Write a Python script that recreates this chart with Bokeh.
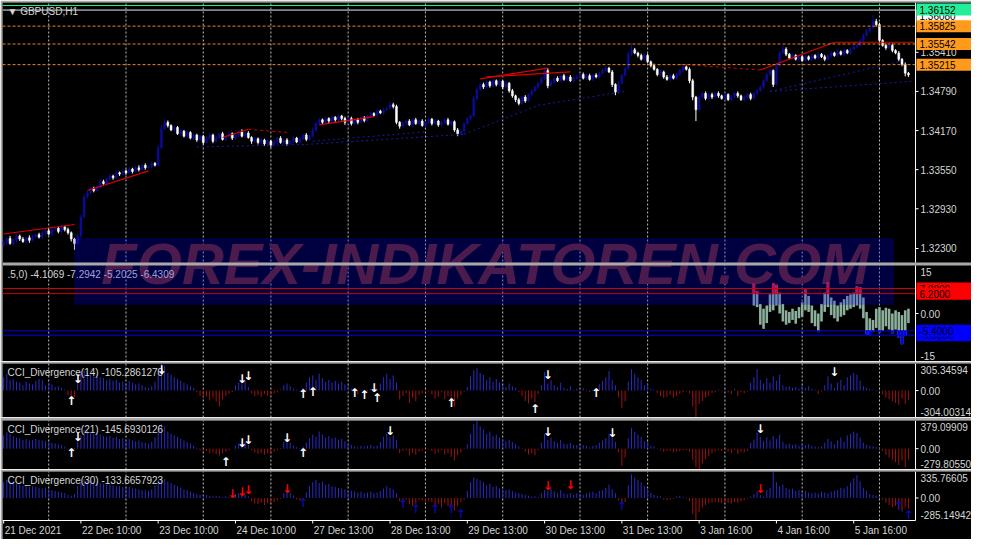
from bokeh.plotting import figure
from bokeh.layouts import column
from bokeh.models import Range1d
from bokeh.core.properties import value
from bokeh.embed import file_html
from bokeh.resources import INLINE

# ---------------------------------------------------------------- data
SYMBOL_TITLE = "\u25BC GBPUSD,H1"
PRICE_BASE = 1.3            # candle values below are pips above this base
FIRST_OPEN = 236
CLOSE = [
    240, 246, 238, 244, 250, 245, 241, 247, 243, 249,
    252, 248, 255, 258, 253, 260, 262, 257, 264, 260,
    255, 245, 238, 250, 280, 312, 318, 325, 322, 328,
    336, 333, 340, 345, 342, 350, 348, 353, 350, 356,
    352, 358, 355, 362, 358, 360, 365, 362, 390, 420,
    430, 425, 418, 422, 412, 416, 408, 414, 405, 410,
    402, 408, 398, 404, 410, 400, 406, 412, 403, 408,
    412, 405, 410, 415, 408, 413, 406, 400, 404, 398,
    402, 396, 400, 394, 399, 405, 398, 402, 396, 400,
    405, 399, 404, 410, 403, 408, 418, 428, 434, 430,
    436, 432, 438, 434, 440, 436, 430, 436, 428, 434,
    430, 437, 433, 440, 444, 441, 448, 445, 450, 452,
    458, 455, 430, 424, 428, 432, 426, 434, 428, 432,
    425, 430, 435, 428, 432, 426, 430, 434, 427, 431,
    418, 412, 416, 428, 436, 440, 468, 482, 490, 486,
    494, 488, 496, 490, 495, 486, 492, 480, 472, 466,
    460, 470, 464, 474, 480, 486, 492, 500, 512, 488,
    494, 500, 496, 504, 498, 502, 496, 500, 502, 506,
    500, 504, 498, 505, 502, 508, 512, 516, 510, 490,
    478, 492, 505, 515, 538, 545, 540, 536, 530, 536,
    526, 520, 514, 506, 510, 502, 498, 504, 500, 506,
    512, 518, 514, 496, 470, 450, 470, 476, 468, 474,
    470, 476, 472, 468, 474, 466, 470, 476, 472, 466,
    470, 474, 468, 476, 480, 486, 496, 506, 512, 490,
    520, 540, 546, 538, 532, 536, 530, 534, 528, 534,
    530, 536, 532, 538, 534, 530, 536, 540, 536, 542,
    538, 544, 540, 546, 550, 552, 560, 568, 575, 580,
    590, 585, 560, 552, 548, 552, 544, 540, 530, 522,
    508, 505,
]
WICK_UP = [
    3, 2, 4, 2, 3, 2, 3, 2, 4, 3, 2, 3, 2, 3, 4, 2, 3, 2, 3, 2,
    3, 2, 2, 4, 3, 4, 3, 2, 3, 2, 4, 3, 2, 3, 2, 3, 2, 3, 2, 3,
    2, 3, 4, 2, 3, 2, 3, 2, 4, 6, 5, 3, 2, 3, 2, 3, 2, 3, 2, 3,
    2, 3, 2, 3, 4, 2, 3, 2, 3, 2, 3, 2, 3, 2, 4, 2, 3, 2, 3, 2,
    3, 2, 3, 2, 3, 2, 3, 2, 3, 2, 3, 2, 3, 2, 3, 2, 4, 3, 3, 2,
    3, 2, 3, 2, 3, 2, 3, 2, 3, 2, 3, 2, 3, 2, 3, 2, 3, 2, 3, 3,
    5, 3, 3, 2, 3, 2, 3, 2, 3, 2, 3, 2, 3, 2, 3, 2, 3, 2, 3, 2,
    2, 3, 2, 3, 2, 3, 4, 3, 4, 3, 3, 2, 3, 2, 3, 2, 3, 2, 3, 2,
    3, 2, 3, 2, 3, 2, 3, 2, 6, 4, 3, 2, 3, 2, 3, 2, 3, 2, 3, 2,
    3, 2, 3, 2, 3, 2, 3, 3, 2, 3, 2, 3, 2, 3, 4, 11, 3, 2, 3, 2,
    3, 2, 3, 2, 3, 2, 3, 2, 3, 2, 3, 3, 2, 3, 3, 2, 3, 2, 3, 2,
    3, 2, 3, 2, 3, 2, 3, 2, 3, 2, 3, 2, 3, 2, 3, 2, 3, 3, 3, 2,
    3, 3, 7, 3, 2, 3, 2, 3, 2, 3, 2, 3, 2, 3, 2, 3, 2, 3, 2, 3,
    2, 3, 2, 3, 3, 2, 3, 3, 3, 3, 10, 4, 3, 2, 3, 2, 3, 2, 3, 2,
    3, 2,
]
WICK_DN = [
    3, 4, 2, 3, 5, 3, 2, 3, 4, 2, 3, 2, 3, 4, 2, 3, 2, 3, 4, 3,
    3, 4, 10, 3, 3, 2, 3, 2, 3, 2, 3, 2, 3, 2, 3, 2, 3, 2, 3, 2,
    3, 2, 3, 2, 3, 2, 3, 2, 2, 3, 2, 3, 2, 3, 2, 3, 2, 3, 2, 3,
    3, 2, 3, 2, 2, 3, 2, 3, 2, 3, 2, 3, 2, 3, 2, 3, 2, 4, 2, 3,
    2, 3, 2, 4, 2, 3, 2, 3, 3, 2, 3, 2, 3, 2, 3, 2, 2, 3, 2, 3,
    2, 3, 2, 3, 2, 3, 4, 2, 3, 2, 3, 2, 3, 2, 3, 2, 3, 2, 3, 2,
    2, 3, 3, 4, 2, 3, 2, 3, 2, 3, 2, 3, 2, 3, 2, 3, 2, 3, 2, 3,
    3, 4, 2, 3, 2, 3, 2, 3, 2, 3, 2, 3, 2, 3, 2, 3, 2, 3, 3, 4,
    3, 2, 3, 2, 3, 2, 3, 2, 3, 4, 2, 3, 2, 3, 2, 3, 2, 3, 2, 3,
    2, 3, 2, 3, 2, 3, 2, 3, 2, 4, 5, 3, 2, 3, 2, 3, 2, 3, 2, 3,
    2, 3, 2, 3, 2, 3, 2, 3, 2, 3, 2, 3, 2, 4, 5, 18, 3, 2, 3, 2,
    3, 2, 3, 2, 3, 2, 3, 2, 3, 2, 3, 2, 3, 2, 3, 2, 3, 2, 3, 4,
    2, 3, 2, 3, 2, 3, 2, 3, 2, 3, 2, 3, 2, 3, 2, 3, 2, 3, 2, 3,
    2, 3, 2, 3, 2, 3, 2, 3, 2, 3, 2, 3, 4, 2, 3, 2, 3, 2, 3, 3,
    5, 3,
]

DATE_TICKS = [0, 24, 48, 72, 96, 120, 144, 168, 192, 216, 240, 264]
DATE_LABELS = ["21 Dec 2021", "22 Dec 10:00", "23 Dec 10:00", "24 Dec 10:00",
               "27 Dec 13:00", "28 Dec 13:00", "29 Dec 13:00", "30 Dec 13:00",
               "31 Dec 13:00", "3 Jan 16:00", "4 Jan 16:00", "5 Jan 16:00"]
DAY_STARTS = [14, 38, 62, 83, 107, 131, 155, 179, 200, 224, 248, 272]

PRICE_RANGE = (1.32078, 1.36200)
PRICE_TICKS = [1.32300, 1.32930, 1.33550, 1.34170, 1.34790, 1.35410]
LEVELS = [1.36152, 1.36080, 1.35825, 1.35542, 1.35215]

# divergence trend lines (bar index pairs, price pairs)
RED_SOLID_I = [[0, 22], [26, 45], [68, 76], [98, 115], [148, 169], [150, 176], [235, 258], [258, 283]]
RED_SOLID_P = [[1.3253, 1.3268], [1.3322, 1.3353], [1.3406, 1.3419], [1.3426, 1.3439],
               [1.3499, 1.3516], [1.3502, 1.3510], [1.3513, 1.3557], [1.3557, 1.3557]]
RED_DASH_I = [[76, 88], [210, 235]]
RED_DASH_P = [[1.3419, 1.3414], [1.3522, 1.3513]]
NAVY_DOT_I = [[60, 94], [94, 143], [96, 131], [143, 166], [166, 193], [238, 282], [238, 278]]
NAVY_DOT_P = [[1.3391, 1.3395], [1.3395, 1.3411], [1.3400, 1.3415], [1.3411, 1.3457],
              [1.3457, 1.3479], [1.3479, 1.3495], [1.3479, 1.3526]]

# oscillator sub-window
OSC_TITLE = ".5,0) -4.1069 -7.2942 -5.2025 -6.4309"
OSC_RANGE = (-15, 15)
OSC_START = 233
OSC_HI = [9.3, 7.0, 3.0, 1.5, 2.5, 6.0, 9.5, 9.0, 6.5, 3.0,
          1.0, 0.5, 1.5, 0.8, 2.0, 3.5, 7.5, 5.5, 2.5, 1.0,
          0.0, 3.0, 6.5, 9.7, 5.0, 4.0, 2.5, 3.5, 4.5, 5.5,
          6.0, 6.5, 8.5, 8.2, 5.0, 0.5, -1.5, -2.0, 1.5, 2.0,
          1.0, 1.8, 1.5, 0.0, 1.0, 0.5, -0.5, 1.0, 1.5]
OSC_LO = [2.5, 2.0, -3.5, -4.8, -3.0, 0.5, 1.0, 2.5, 0.0, -2.5,
          -3.5, -3.0, -2.0, -3.2, -1.5, -1.0, 1.0, 0.5, -3.0, -4.0,
          -5.8, -2.5, 0.5, 2.0, -0.5, -1.5, -2.5, -1.0, -0.5, 1.0,
          1.5, 2.0, 2.5, 1.5, -1.5, -6.5, -6.8, -5.8, -4.5, -6.0,
          -5.5, -4.0, -5.0, -6.2, -5.0, -7.5, -9.6, -7.0, -3.0]
OSC_UPPER = [7.8, 6.2]
OSC_LOWER = [-6.8, -5.4]

# CCI divergence sub-windows
CCI14 = (
    [150, 190, 120, 130, 100] + [90, 60, 100, 80, 70] + [110, 130, 120, 60, 90] + [70, 40, 50, 30, 10]
    + [-50, -80, -70] + [120, 200, 230, 210, 180, 160, 190, 150, 140, 120]
    + [130, 110, 120, 90, 100, 80, 110, 90, 70, 80, 60, 40, 30, 50, 100] + [250, 305, 280]
    + [200, 180, 150, 130, 110, 90, 70, 50, 30]
    + [-20, -60, -90, -70, -110, -80, -120, -180, -100, -60, -40, -20] + [60, 90, 120, 110, 40]
    + [-30, -60, -50, -70, -40, -60, -50, -30, -20, 10] + [60, 80, 50, 20, 10, -10, 30, 90, 150]
    + [170, 120, 190, 140, 100, 120, 90, 110, 80, 100, 70, 50] + [20, -20, -40, 10, -30, -10, 20, -10, 10]
    + [80, 150, 190, 130, 170, 90]
    + [-100, -60, -30, -140, -80, -120, -50, -30, -20, -10, -40, -90, -70, -20, -100, -60, -130, -180, -90, -50, -10]
    + [40, 160, 230, 250, 200, 180, 120, 150, 100, 130, 90] + [60, 40, 80, 50, 30]
    + [-20, -60, -120, -145, -90, -130, -40] + [60, 210] + [80, 120, 60, 40, 90, 30, 20, 50, 10]
    + [20, -10, 30, 10, -20, 10, 20] + [70, 110, 150, 220, 120, 60] + [-80, -200, -120]
    + [100, 240, 190, 150, 120, 60, 70] + [20, 10] + [-30, -60, -80, -70, -50, -80, -60, -40, -20, -10, -30]
    + [-180, -304, -150, -120, -80, -60] + [-30, -20, 10, -10, 20, -20, -40, 20, -60, -20, -30, -10]
    + [90, 150, 240, 120, 80, 140, 90, 160, 110, 180, 60, 40] + [50, 30, 40, 20, 60, 30, 50, 20, 10]
    + [-40, -10] + [60, 160, 80, 30, 90, 120, 60, 150, 170, 200, 180, 110, 50, 30] + [20, 10, -10, 5]
    + [-40, -80, -100, -120, -140, -160, -90, -150, -105]
)
CCI21 = (
    [180, 220, 200, 170, 150] + [140, 120, 130, 110, 120] + [130, 120, 110, 100, 90] + [80, 70, 60, 50, 30]
    + [-10, -30, 10] + [100, 180, 250, 240, 220, 200, 230, 190, 170, 160]
    + [170, 150, 160, 130, 140, 120, 130, 110, 100, 110, 90, 80, 70, 90, 150] + [280, 330, 300]
    + [230, 200, 180, 160, 130, 110, 90, 70, 40]
    + [10, -20, -40, -30, -60, -50, -70, -90, -60, -40, -20, 0] + [40, 70, 100, 90, 50]
    + [-20, -50, -70, -60, -80, -60, -70, -40, -20, 10] + [90, 130, 80, 40, 20, 10, 30, 80, 140]
    + [190, 160, 230, 190, 150, 170, 140, 150, 120, 130, 100, 80] + [50, 30, 20, 40, 30, 40, 50, 30, 40]
    + [90, 160, 200, 150, 180, 120]
    + [-60, -30, -20, -90, -60, -80, -40, -30, -20, -10, -30, -70, -50, -20, -80, -60, -110, -160, -90, -50, -10]
    + [60, 200, 330, 379, 300, 260, 200, 230, 170, 190, 150] + [120, 100, 120, 90, 60]
    + [30, 10, -40, -80, -60, -90, -20] + [80, 200] + [120, 150, 100, 80, 120, 70, 60, 80, 50]
    + [50, 30, 50, 40, 20, 40, 50] + [80, 110, 140, 200, 150, 90] + [-50, -230, -120]
    + [140, 280, 230, 190, 160, 100, 90] + [40, 30] + [10, -20, -40, -30, -30, -50, -40, -30, -20, -20, -40]
    + [-150, -250, -280, -200, -140, -100] + [-60, -40, -20, -30, -10, -40, -60, -20, -70, -40, -50, -30]
    + [80, 120, 220, 160, 100, 150, 110, 170, 130, 190, 90, 60] + [70, 50, 60, 40, 70, 50, 60, 40, 30]
    + [20, 30] + [80, 130, 100, 60, 110, 150, 90, 180, 200, 230, 210, 150, 80, 50] + [40, 30, 20, 10]
    + [-30, -80, -120, -150, -180, -220, -160, -250, -145]
)
CCI30 = (
    [200, 230, 210, 190, 180] + [170, 150, 160, 140, 150] + [140, 130, 120, 130, 110] + [100, 90, 80, 70, 60]
    + [40, 30, 50] + [150, 200, 240, 230, 220, 200, 210, 190, 180, 170]
    + [170, 160, 150, 150, 140, 130, 140, 120, 120, 110, 100, 100, 90, 110, 160] + [230, 260, 240]
    + [210, 190, 170, 150, 130, 110, 100, 80, 60]
    + [50, 40, 30, 40, 30, 20, 30, 20, 10, 20, 10, 30] + [50, 60, 70, 40, 20]
    + [-40, -70, -80, -60, -90, -70, -60, -50, -30, -10] + [60, 100, 70, 30, -20, -30, -10, 70, 150]
    + [200, 230, 190, 210, 170, 180, 150, 140, 130, 120, 110, 100] + [90, 80, 70, 80, 60, 70, 80, 60, 70]
    + [90, 120, 150, 130, 110, 60]
    + [-40, -60, -20, -80, -100, -70, -20, -30, -60, -40, -50, -90, -70, -120, -60, -100, -130, -160, -100, -50, -20]
    + [90, 200, 260, 240, 220, 200, 160, 180, 140, 150, 120] + [110, 100, 110, 90, 70]
    + [60, 50, 40, 30, 20, 20, 10] + [60, 100] + [90, 120, 80, 60, 100, 60, 50, 60, 40]
    + [60, 50, 40, 60, 70, 80, 60] + [90, 100, 130, 170, 110, 60] + [-30, -70, -50]
    + [160, 300, 260, 230, 200, 150, 120] + [60, 40] + [30, 20, -20, -30, -20, -10, 20, 30, 10, -10, -40]
    + [-200, -285, -180, -120, -90, -70] + [-60, -50, -60, -70, -50, -60, -70, -50, -60, -40, -30, -10]
    + [20, 50, 80, 40, 20, 100, 130, 335, 200, 150, 170, 130] + [110, 120, 90, 100, 80, 90, 70, 60, 70]
    + [60, 80] + [70, 60, 80, 90, 100, 130, 120, 150, 200, 250, 290, 210, 130, 90] + [50, 40, 30, 20]
    + [-20, -60, -90, -120, -100, -150, -170, -110, -134]
)
CCI14_TITLE = "CCI_Divergence(14) -105.2861270"
CCI21_TITLE = "CCI_Divergence(21) -145.6930126"
CCI30_TITLE = "CCI_Divergence(30) -133.6657923"
CCI14_RANGE = (-304.00314, 305.34594)
CCI21_RANGE = (-279.80550, 379.09909)
CCI30_RANGE = (-285.14942, 335.76605)

# divergence arrows (bar index, value)
CCI14_UP_I = [21, 93, 96, 109, 112, 116, 139, 165, 184]
CCI14_UP_V = [-115, -38, -15, -30, -50, -80, -140, -210, -30]
CCI14_DN_I = [23, 49, 74, 76, 115, 169, 258]
CCI14_DN_V = [128, 235, 128, 160, 30, 170, 215]
CCI21_UP_I = [21, 69, 93]
CCI21_UP_V = [-53, -185, -53]
CCI21_DN_I = [23, 74, 76, 88, 120, 169, 189, 235]
CCI21_DN_V = [153, 76, 115, 140, 244, 231, 205, 270]
CCI30_UP_I = [93, 124, 128, 134, 139, 142, 192, 278, 281]
CCI30_UP_V = [-58, -70, -142, -142, -142, -202, -106, -106, -214]
CCI30_DN_I = [71, 74, 76, 88, 169, 176, 235]
CCI30_DN_V = [49, 73, 97, 109, 156, 168, 109]

WATERMARK = "FOREX-INDIKATOREN.COM"

# ---------------------------------------------------------------- layout / style
FONT = "Liberation Sans"
TXT = "#d4d6d4"
SEP = "#a9a9a9"
BULL = "#0c0c96"
BEAR = "#ffffff"
W = 971
FRAME_W = 969          # width (px) of every panel frame, price scale included
PXB = 3.22             # px per bar
X0 = -0.35
X1 = X0 + FRAME_W / PXB
AX = 283.2             # bar coordinate of the price-scale line
TICK = 3 / PXB         # 3 px tick mark
BOXW = 60 / PXB        # width of the coloured price tags
X_RANGE = Range1d(X0, X1)
WM_LEFT, WM_RIGHT, WM_X = 21.9, 276.5, 149.6

# the price window and the oscillator window share one frame (so the watermark is not split)
MAIN_H, SEP_H, OSC_H = 260, 3, 96
UNIT = (PRICE_RANGE[1] - PRICE_RANGE[0]) / MAIN_H          # price per px
OSC_UNIT = (OSC_RANGE[1] - OSC_RANGE[0]) / OSC_H           # osc value per px
TOP_Y_RANGE = (PRICE_RANGE[1] - (MAIN_H + SEP_H + OSC_H) * UNIT, PRICE_RANGE[1])
OSC_Y_RANGE = (OSC_RANGE[0], OSC_RANGE[1] + (MAIN_H + SEP_H) * OSC_UNIT)


def base_fig(h, yr, top, grid_lo=None, grid_hi=None):
    p = figure(width=W, height=h, x_range=X_RANGE, y_range=Range1d(*yr),
               output_backend="svg", toolbar_location=None,
               x_axis_location=None, y_axis_location=None,
               min_border_left=2, min_border_right=0, min_border_top=top, min_border_bottom=0,
               background_fill_color="black", border_fill_color=SEP,
               outline_line_color=None)
    p.grid.visible = False
    lo = yr[0] if grid_lo is None else grid_lo
    hi = yr[1] if grid_hi is None else grid_hi
    n = len(DAY_STARTS)
    p.segment(x0=DAY_STARTS, y0=[lo] * n, x1=DAY_STARTS, y1=[hi] * n,
              line_color="#bdbdbd", line_width=1, line_dash="2 2")
    return p


def scale_line(p, lo, hi, yr="default"):
    p.segment(x0=[AX], y0=[lo], x1=[AX], y1=[hi], line_color="white", line_width=1, y_range_name=yr)


def ticks(p, ys, yr="default"):
    p.segment(x0=[AX] * len(ys), y0=ys, x1=[AX + TICK] * len(ys), y1=ys, line_color="white",
              y_range_name=yr)


def scale_text(p, ys, labels, baseline="middle", color=TXT, dx=5, dy=0, yr="default"):
    p.text(x=[AX] * len(ys), y=ys, text=labels, x_offset=dx, y_offset=dy, text_align="left",
           text_baseline=baseline, text_font=value(FONT), text_font_size="10px",
           text_color=color, y_range_name=yr)


def tag(p, y, text, bg, fg="black", yr="default"):
    p.rect(x=[AX + 0.3 + BOXW / 2], y=[y], width=BOXW, height=12, height_units="screen",
           fill_color=bg, line_color=None, y_range_name=yr)
    scale_text(p, [y], [text], color=fg, dx=4, yr=yr)


def hline(p, y, color, dash="solid", width=1, yr="default"):
    p.segment(x0=[X0], y0=[y], x1=[AX], y1=[y], line_color=color, line_width=width,
              line_dash=dash, y_range_name=yr)


def title(p, text, ytop, yr="default"):
    p.text(x=[X0], y=[ytop], text=[text], x_offset=5, y_offset=3,
           text_align="left", text_baseline="top", text_font=value(FONT),
           text_font_size="10px", text_color=TXT, y_range_name=yr)


def arrows(p, xs, ys, glyph, color):
    p.text(x=xs, y=ys, text=[glyph] * len(xs), text_align="center", text_baseline="middle",
           text_font=value("DejaVu Sans"), text_font_style="bold", text_font_size="12px",
           text_color=color)


# ---------------------------------------------------------------- price + oscillator windows
def px(v):
    return PRICE_BASE + v / 10000.0


N = len(CLOSE)
IDX = list(range(N))
OPEN = [FIRST_OPEN] + CLOSE[:-1]
b_top, b_bot, hi, lo, col = [], [], [], [], []
for o, c, wu, wd in zip(OPEN, CLOSE, WICK_UP, WICK_DN):
    t, b = max(o, c), min(o, c)
    hi.append(px(t + wu))
    lo.append(px(b - wd))
    if t == b:
        t += 0.4
    b_top.append(px(t))
    b_bot.append(px(b))
    col.append(BULL if c > o else BEAR)

pt = base_fig(MAIN_H + SEP_H + OSC_H + 2, TOP_Y_RANGE, top=2)
pt.extra_y_ranges = {"osc": Range1d(*OSC_Y_RANGE)}

# watermark text (under the chart), one piece spanning both windows
pt.text(x=[WM_X], y=[1.32070], text=[WATERMARK], text_align="center", text_baseline="middle",
        text_font=value(FONT), text_font_style="bold italic", text_font_size="58px",
        text_color="#652512")

# candles and divergence lines
pt.segment(x0=IDX, y0=lo, x1=IDX, y1=hi, line_color=col, line_width=1)
pt.vbar(x=IDX, width=0.6, top=b_top, bottom=b_bot, fill_color=col, line_color=col, line_width=0.5)
pt.multi_line(xs=RED_SOLID_I, ys=RED_SOLID_P, line_color="#e00000", line_width=1.2)
pt.multi_line(xs=RED_DASH_I, ys=RED_DASH_P, line_color="#d00000", line_width=1, line_dash="3 3")
pt.multi_line(xs=NAVY_DOT_I, ys=NAVY_DOT_P, line_color="#1a1ab0", line_width=1, line_dash="2 3")

# oscillator bars
ox = [OSC_START + k for k in range(len(OSC_HI))]
pt.vbar(x=ox, width=0.8, top=OSC_HI, bottom=OSC_LO, fill_color="#8cb09c", line_color=None,
        y_range_name="osc")
rx, rt, rb = [], [], []
for x, h, l in zip(ox, OSC_HI, OSC_LO):
    if h > OSC_UPPER[1]:
        rx.append(x); rt.append(h); rb.append(max(l, OSC_UPPER[1]))
pt.vbar(x=rx, width=0.8, top=rt, bottom=rb, fill_color="#ff1010", line_color=None, y_range_name="osc")
bx, bt, bb = [], [], []
for x, h, l in zip(ox, OSC_HI, OSC_LO):
    if l < OSC_LOWER[1]:
        bx.append(x); bt.append(min(h, OSC_LOWER[1])); bb.append(l)
pt.vbar(x=bx, width=0.8, top=bt, bottom=bb, fill_color="#0000ff", line_color=None, y_range_name="osc")
title(pt, OSC_TITLE, OSC_RANGE[1], yr="osc")

# translucent watermark panel over both windows
wm_bottom = PRICE_RANGE[1] - (MAIN_H + SEP_H + (OSC_RANGE[1] - 2.7) / OSC_UNIT) * UNIT
pt.quad(left=[WM_LEFT], right=[WM_RIGHT], bottom=[wm_bottom], top=[1.32465],
        fill_color="#0000ff", fill_alpha=0.25, line_color=None)

# level lines
hline(pt, LEVELS[0], "#00ff80")
hline(pt, LEVELS[1], "#e8e8e8")
for lv in LEVELS[2:]:
    hline(pt, lv, "#e08a1c", dash="3 2")
for lv in OSC_UPPER:
    hline(pt, lv, "#d80000", yr="osc")
for lv in OSC_LOWER:
    hline(pt, lv, "#0000e0", yr="osc")

# separator between the two windows
pt.quad(left=[X0], right=[X1], top=[PRICE_RANGE[0]], bottom=[PRICE_RANGE[0] - SEP_H * UNIT],
        fill_color=SEP, line_color=None)

# price scale
scale_line(pt, PRICE_RANGE[0], PRICE_RANGE[1])
ticks(pt, PRICE_TICKS)
scale_text(pt, PRICE_TICKS, ["%.5f" % t for t in PRICE_TICKS])
tag(pt, min(LEVELS[1], PRICE_RANGE[1] - 13 * UNIT), "%.5f" % LEVELS[1], "#ffffff")
tag(pt, min(LEVELS[0], PRICE_RANGE[1] - 7 * UNIT), "%.5f" % LEVELS[0], "#22ee99")
for lv in LEVELS[2:]:
    tag(pt, lv, "%.5f" % lv, "#ff9a1a")
title(pt, SYMBOL_TITLE, PRICE_RANGE[1])

# oscillator scale
scale_line(pt, OSC_RANGE[0], OSC_RANGE[1], yr="osc")
ticks(pt, [0], yr="osc")
scale_text(pt, [OSC_RANGE[1]], ["15"], baseline="top", dy=2, yr="osc")
scale_text(pt, [0], ["0.00"], yr="osc")
scale_text(pt, [OSC_RANGE[0]], ["-15"], baseline="bottom", dy=-2, yr="osc")
for lv in OSC_UPPER:
    tag(pt, lv, "%.4f" % lv, "#ff0000", yr="osc")
for lv in OSC_LOWER:
    tag(pt, lv, "%.4f" % lv, "#0000ff", yr="osc")


# ---------------------------------------------------------------- CCI windows
def cci_panel(vals, yr, ttl, up_i, up_v, up_c, dn_i, dn_v, dn_c, h, top, data_bottom=None):
    p = base_fig(h, yr, top=top, grid_lo=data_bottom)
    colors = ["#2a2ac4" if v >= 0 else "#a01212" for v in vals]
    p.segment(x0=IDX, y0=[0] * len(vals), x1=IDX, y1=vals, line_color=colors, line_width=1)
    title(p, ttl, yr[1])
    arrows(p, up_i, up_v, "\u2191", up_c)
    arrows(p, dn_i, dn_v, "\u2193", dn_c)
    lo_v = yr[0] if data_bottom is None else data_bottom
    scale_line(p, lo_v, yr[1])
    ticks(p, [0])
    scale_text(p, [yr[1]], ["%.5f" % yr[1]], baseline="top", dy=2)
    scale_text(p, [0], ["0.00"])
    scale_text(p, [lo_v], ["%.5f" % lo_v], baseline="bottom", dy=-2)
    return p


p14 = cci_panel(CCI14, CCI14_RANGE, CCI14_TITLE,
                CCI14_UP_I, CCI14_UP_V, "#ffffff", CCI14_DN_I, CCI14_DN_V, "#ffffff", 56, 2)
p21 = cci_panel(CCI21, CCI21_RANGE, CCI21_TITLE,
                CCI21_UP_I, CCI21_UP_V, "#ffffff", CCI21_DN_I, CCI21_DN_V, "#ffffff", 52, 3)
# bottom window: 49 px of data + 19 px of time scale inside the same frame
u30 = (CCI30_RANGE[1] - CCI30_RANGE[0]) / 49.0
AXIS30 = (CCI30_RANGE[0] - 19 * u30, CCI30_RANGE[1])
p30 = cci_panel(CCI30, AXIS30, CCI30_TITLE,
                CCI30_UP_I, CCI30_UP_V, "#0a0aa8", CCI30_DN_I, CCI30_DN_V, "#ff0000", 70, 2,
                data_bottom=CCI30_RANGE[0])
# time scale
y_ax = CCI30_RANGE[0]
p30.segment(x0=[X0], y0=[y_ax], x1=[AX], y1=[y_ax], line_color="white", line_width=1)
nt = len(DATE_TICKS)
p30.segment(x0=DATE_TICKS, y0=[y_ax] * nt, x1=DATE_TICKS, y1=[y_ax - 3 * u30] * nt, line_color="white")
p30.text(x=DATE_TICKS, y=[y_ax] * nt, text=DATE_LABELS, x_offset=1, y_offset=4,
         text_align="left", text_baseline="top", text_font=value(FONT),
         text_font_size="10px", text_color=TXT)

layout = column(pt, p14, p21, p30)
open("out.html", "w").write(file_html(layout, INLINE))
